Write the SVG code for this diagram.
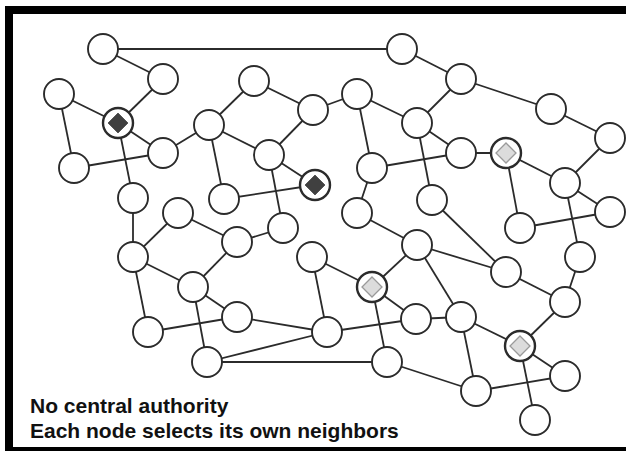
<svg xmlns="http://www.w3.org/2000/svg" width="626" height="451" viewBox="0 0 626 451">
  <style>
    .edge { stroke: #2b2b2b; stroke-width: 1.8; fill: none; }
    .node circle { fill: #ffffff; stroke: #2b2b2b; stroke-width: 1.9; }
    .node.dark circle, .node.light circle { stroke-width: 2.4; }
    .dia-dark { fill: #404040; stroke: #5a5a5a; stroke-width: 1; }
    .dia-light { fill: #dcdcdc; stroke: #9a9a9a; stroke-width: 1.3; }
    .caption { font-family: "Liberation Sans", Arial, sans-serif; font-weight: bold; font-size: 21px; fill: #111111; }
  </style>
  <defs>
    <path id="diamond" d="M0,-10 L10,0 L0,10 L-10,0 Z"/>
  </defs>
  <rect x="0" y="0" width="626" height="451" fill="#ffffff"/>
  <rect x="9" y="10" width="660" height="441" fill="none" stroke="#000000" stroke-width="8"/>

  <g id="connectors" class="edge">
    <line x1="103" y1="49" x2="402" y2="49"/>
    <line x1="103" y1="49" x2="163" y2="79"/>
    <line x1="163" y1="79" x2="118" y2="123"/>
    <line x1="59" y1="94" x2="118" y2="123"/>
    <line x1="59" y1="94" x2="74" y2="168"/>
    <line x1="118" y1="123" x2="163" y2="153"/>
    <line x1="74" y1="168" x2="163" y2="153"/>
    <line x1="118" y1="123" x2="133" y2="198"/>
    <line x1="163" y1="153" x2="209" y2="125"/>
    <line x1="209" y1="125" x2="254" y2="81"/>
    <line x1="254" y1="81" x2="313" y2="110"/>
    <line x1="209" y1="125" x2="269" y2="155"/>
    <line x1="313" y1="110" x2="269" y2="155"/>
    <line x1="269" y1="155" x2="315" y2="185"/>
    <line x1="209" y1="125" x2="224" y2="199"/>
    <line x1="224" y1="199" x2="315" y2="185"/>
    <line x1="269" y1="155" x2="283" y2="228"/>
    <line x1="313" y1="110" x2="357" y2="94"/>
    <line x1="402" y1="49" x2="461" y2="79"/>
    <line x1="461" y1="79" x2="551" y2="109"/>
    <line x1="551" y1="109" x2="610" y2="138"/>
    <line x1="461" y1="79" x2="417" y2="123"/>
    <line x1="357" y1="94" x2="417" y2="123"/>
    <line x1="357" y1="94" x2="372" y2="168"/>
    <line x1="417" y1="123" x2="461" y2="153"/>
    <line x1="417" y1="123" x2="432" y2="200"/>
    <line x1="372" y1="168" x2="461" y2="153"/>
    <line x1="461" y1="153" x2="506" y2="153"/>
    <line x1="506" y1="153" x2="565" y2="183"/>
    <line x1="610" y1="138" x2="565" y2="183"/>
    <line x1="506" y1="153" x2="520" y2="228"/>
    <line x1="565" y1="183" x2="610" y2="212"/>
    <line x1="565" y1="183" x2="580" y2="257"/>
    <line x1="520" y1="228" x2="610" y2="212"/>
    <line x1="372" y1="168" x2="357" y2="213"/>
    <line x1="432" y1="200" x2="506" y2="272"/>
    <line x1="357" y1="213" x2="417" y2="245"/>
    <line x1="133" y1="198" x2="133" y2="257"/>
    <line x1="178" y1="213" x2="133" y2="257"/>
    <line x1="178" y1="213" x2="237" y2="242"/>
    <line x1="237" y1="242" x2="283" y2="228"/>
    <line x1="133" y1="257" x2="193" y2="287"/>
    <line x1="237" y1="242" x2="193" y2="287"/>
    <line x1="133" y1="257" x2="148" y2="332"/>
    <line x1="193" y1="287" x2="237" y2="317"/>
    <line x1="193" y1="287" x2="207" y2="362"/>
    <line x1="148" y1="332" x2="237" y2="317"/>
    <line x1="237" y1="317" x2="327" y2="332"/>
    <line x1="207" y1="362" x2="327" y2="332"/>
    <line x1="207" y1="362" x2="387" y2="362"/>
    <line x1="312" y1="257" x2="327" y2="332"/>
    <line x1="312" y1="257" x2="372" y2="287"/>
    <line x1="417" y1="245" x2="372" y2="287"/>
    <line x1="417" y1="245" x2="506" y2="272"/>
    <line x1="417" y1="245" x2="461" y2="317"/>
    <line x1="372" y1="287" x2="416" y2="319"/>
    <line x1="372" y1="287" x2="387" y2="362"/>
    <line x1="327" y1="332" x2="416" y2="319"/>
    <line x1="416" y1="319" x2="461" y2="317"/>
    <line x1="461" y1="317" x2="520" y2="346"/>
    <line x1="461" y1="317" x2="476" y2="391"/>
    <line x1="506" y1="272" x2="565" y2="302"/>
    <line x1="580" y1="257" x2="565" y2="302"/>
    <line x1="565" y1="302" x2="520" y2="346"/>
    <line x1="520" y1="346" x2="565" y2="376"/>
    <line x1="520" y1="346" x2="535" y2="420"/>
    <line x1="387" y1="362" x2="476" y2="391"/>
    <line x1="476" y1="391" x2="565" y2="376"/>
  </g>

  <g id="n-a" class="node"><circle cx="103" cy="49" r="15"/></g>
  <g id="n-b" class="node"><circle cx="163" cy="79" r="15"/></g>
  <g id="n-c" class="node"><circle cx="59" cy="94" r="15"/></g>
  <g id="n-d" class="node dark"><circle cx="118" cy="123" r="15"/><use href="#diamond" class="dia-dark" x="118" y="123"/></g>
  <g id="n-e" class="node"><circle cx="163" cy="153" r="15"/></g>
  <g id="n-f" class="node"><circle cx="74" cy="168" r="15"/></g>
  <g id="n-g" class="node"><circle cx="209" cy="125" r="15"/></g>
  <g id="n-h" class="node"><circle cx="254" cy="81" r="15"/></g>
  <g id="n-i" class="node"><circle cx="313" cy="110" r="15"/></g>
  <g id="n-j" class="node"><circle cx="269" cy="155" r="15"/></g>
  <g id="n-k" class="node dark"><circle cx="315" cy="185" r="15"/><use href="#diamond" class="dia-dark" x="315" y="185"/></g>
  <g id="n-l" class="node"><circle cx="224" cy="199" r="15"/></g>
  <g id="n-m" class="node"><circle cx="133" cy="198" r="15"/></g>
  <g id="n-n" class="node"><circle cx="178" cy="213" r="15"/></g>
  <g id="n-o" class="node"><circle cx="283" cy="228" r="15"/></g>
  <g id="n-p" class="node"><circle cx="402" cy="49" r="15"/></g>
  <g id="n-q" class="node"><circle cx="461" cy="79" r="15"/></g>
  <g id="n-r" class="node"><circle cx="357" cy="94" r="15"/></g>
  <g id="n-s" class="node"><circle cx="417" cy="123" r="15"/></g>
  <g id="n-t" class="node"><circle cx="551" cy="109" r="15"/></g>
  <g id="n-u" class="node"><circle cx="610" cy="138" r="15"/></g>
  <g id="n-v" class="node"><circle cx="461" cy="153" r="15"/></g>
  <g id="n-w" class="node light"><circle cx="506" cy="153" r="15"/><use href="#diamond" class="dia-light" x="506" y="153"/></g>
  <g id="n-x" class="node"><circle cx="372" cy="168" r="15"/></g>
  <g id="n-y" class="node"><circle cx="565" cy="183" r="15"/></g>
  <g id="n-z" class="node"><circle cx="432" cy="200" r="15"/></g>
  <g id="n-aa" class="node"><circle cx="357" cy="213" r="15"/></g>
  <g id="n-ab" class="node"><circle cx="610" cy="212" r="15"/></g>
  <g id="n-ac" class="node"><circle cx="520" cy="228" r="15"/></g>
  <g id="n-ad" class="node"><circle cx="133" cy="257" r="15"/></g>
  <g id="n-ae" class="node"><circle cx="237" cy="242" r="15"/></g>
  <g id="n-af" class="node"><circle cx="193" cy="287" r="15"/></g>
  <g id="n-ag" class="node"><circle cx="312" cy="257" r="15"/></g>
  <g id="n-ah" class="node"><circle cx="148" cy="332" r="15"/></g>
  <g id="n-ai" class="node"><circle cx="237" cy="317" r="15"/></g>
  <g id="n-aj" class="node"><circle cx="207" cy="362" r="15"/></g>
  <g id="n-ak" class="node"><circle cx="327" cy="332" r="15"/></g>
  <g id="n-al" class="node"><circle cx="417" cy="245" r="15"/></g>
  <g id="n-an" class="node light"><circle cx="372" cy="287" r="15"/><use href="#diamond" class="dia-light" x="372" y="287"/></g>
  <g id="n-ao" class="node"><circle cx="506" cy="272" r="15"/></g>
  <g id="n-ap" class="node"><circle cx="580" cy="257" r="15"/></g>
  <g id="n-aq" class="node"><circle cx="565" cy="302" r="15"/></g>
  <g id="n-ar" class="node"><circle cx="416" cy="319" r="15"/></g>
  <g id="n-as" class="node"><circle cx="461" cy="317" r="15"/></g>
  <g id="n-at" class="node light"><circle cx="520" cy="346" r="15"/><use href="#diamond" class="dia-light" x="520" y="346"/></g>
  <g id="n-au" class="node"><circle cx="387" cy="362" r="15"/></g>
  <g id="n-av" class="node"><circle cx="476" cy="391" r="15"/></g>
  <g id="n-aw" class="node"><circle cx="565" cy="376" r="15"/></g>
  <g id="n-ax" class="node"><circle cx="535" cy="420" r="15"/></g>

  <g id="caption">
    <text class="caption" x="30" y="413">No central authority</text>
    <text class="caption" x="30" y="438">Each node selects its own neighbors</text>
  </g>
</svg>
